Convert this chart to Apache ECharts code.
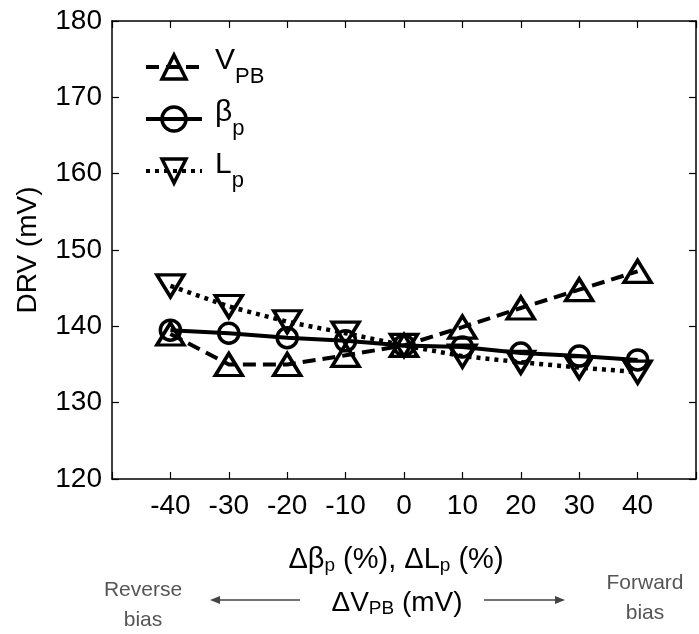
<!DOCTYPE html>
<html>
<head>
<meta charset="utf-8">
<script src="https://cdn.jsdelivr.net/npm/echarts@6/dist/echarts.min.js"></script>
<style>html,body{margin:0;padding:0;background:#fff;}#c{width:699px;height:634px;}</style>
</head>
<body>
<div id="c"></div>
<script>
const xValues = [-40, -30, -20, -10, 0, 10, 20, 30, 40];
const vpbValues = [139.0, 135.0, 135.0, 136.2, 137.5, 139.9, 142.4, 144.8, 147.2];
const betaValues = [139.5, 139.1, 138.5, 138.1, 137.5, 137.3, 136.5, 136.1, 135.6];
const lpValues = [145.3, 142.6, 140.6, 139.1, 137.5, 136.1, 135.3, 134.6, 134.0];
const yTicks = [120, 130, 140, 150, 160, 170, 180];
const seriesNames = ['VPB', 'beta', 'Lp'];

const FONT = 'Liberation Sans, Arial, sans-serif';
const pair = (vals) => xValues.map((x, i) => [x, vals[i]]);

const chart = echarts.init(document.getElementById('c'), null, {renderer: 'canvas'});
const markerStyle = {color: 'rgba(0,0,0,0)', borderColor: '#000', borderWidth: 3.5};

const legendRich = {
  m: {fontSize: 30, fontFamily: FONT, color: '#000', verticalAlign: 'top', lineHeight: 42, padding: [0, 0, 0, 8]},
  s: {fontSize: 22, fontFamily: FONT, color: '#000', verticalAlign: 'bottom', lineHeight: 42}
};
const legendText = {VPB: '{m|V}{s|PB}', beta: '{m|β}{s|p}', Lp: '{m|L}{s|p}'};
const tickStyle = {inside: true, length: 7, lineStyle: {color: '#000', width: 1.2}};
const lineAxis = {show: true, onZero: false, lineStyle: {color: '#000', width: 1.5}};

chart.setOption({
  animation: false,
  backgroundColor: '#fff',
  grid: {left: 112, right: 1, top: 21, bottom: 155, containLabel: false},
  legend: {
    orient: 'vertical', left: 139, top: 41, itemWidth: 56, itemHeight: 30, itemGap: 10,
    data: seriesNames,
    formatter: (n) => legendText[n],
    lineStyle: {width: 4},
    itemStyle: {borderWidth: 3.5},
    textStyle: {rich: legendRich}
  },
  xAxis: [{
    type: 'value', min: -50, max: 50, interval: 10,
    axisLine: lineAxis, axisTick: tickStyle,
    axisLabel: {fontSize: 28, fontFamily: FONT, color: '#000', margin: 13,
      formatter: (v) => (Math.abs(v) === 50 ? '' : String(v))},
    splitLine: {show: false}
  }, {
    type: 'value', position: 'top', min: -50, max: 50, interval: 10,
    axisLine: lineAxis, axisTick: tickStyle,
    axisLabel: {show: false}, splitLine: {show: false}
  }],
  yAxis: [{
    type: 'value', min: yTicks[0], max: yTicks[yTicks.length - 1], interval: 10,
    name: 'DRV (mV)', nameLocation: 'middle', nameGap: 70,
    nameTextStyle: {fontSize: 28, fontFamily: FONT, color: '#000'},
    axisLine: lineAxis, axisTick: tickStyle,
    axisLabel: {fontSize: 28, fontFamily: FONT, color: '#000', margin: 10},
    splitLine: {show: false}
  }, {
    type: 'value', position: 'right', min: yTicks[0], max: yTicks[yTicks.length - 1], interval: 10,
    axisLine: lineAxis, axisTick: tickStyle,
    axisLabel: {show: false}, splitLine: {show: false}
  }],
  series: [{
    name: 'VPB', type: 'line', data: pair(vpbValues),
    symbol: 'triangle', symbolSize: [27, 22], showAllSymbol: true,
    lineStyle: {color: '#000', width: 4, type: [13, 7]},
    itemStyle: markerStyle, z: 3
  }, {
    name: 'beta', type: 'line', data: pair(betaValues),
    symbol: 'circle', symbolSize: 20, showAllSymbol: true,
    lineStyle: {color: '#000', width: 4, type: 'solid'},
    itemStyle: markerStyle, z: 3
  }, {
    name: 'Lp', type: 'line', data: pair(lpValues),
    symbol: 'triangle', symbolRotate: 180, symbolSize: [27, 22], showAllSymbol: true,
    lineStyle: {color: '#000', width: 4.5, type: [4, 5]},
    itemStyle: markerStyle, z: 3
  }],
  graphic: [{
    type: 'text', x: 396, y: 560,
    style: {
      text: '{t|Δβ}{s|p}{t| (%), ΔL}{s|p}{t| (%)}',
      align: 'center', verticalAlign: 'middle',
      rich: {t: {fontSize: 29, fontFamily: FONT, color: '#000'}, s: {fontSize: 19, fontFamily: FONT, color: '#000', padding: [12, 0, 0, 0]}}
    }
  }, {
    type: 'text', x: 397, y: 603,
    style: {
      text: '{t|ΔV}{s|PB}{t| (mV)}',
      align: 'center', verticalAlign: 'middle',
      rich: {t: {fontSize: 28, fontFamily: FONT, color: '#000'}, s: {fontSize: 19, fontFamily: FONT, color: '#000', padding: [12, 0, 0, 0]}}
    }
  }, {
    type: 'text', x: 143, y: 605,
    style: {text: 'Reverse\nbias', align: 'center', verticalAlign: 'middle', fontSize: 21, lineHeight: 30, fontFamily: FONT, fill: '#555'}
  }, {
    type: 'text', x: 645, y: 598,
    style: {text: 'Forward\nbias', align: 'center', verticalAlign: 'middle', fontSize: 21, lineHeight: 30, fontFamily: FONT, fill: '#555'}
  }, {
    type: 'line', shape: {x1: 300, y1: 600, x2: 218, y2: 600}, style: {stroke: '#444', lineWidth: 1.5}
  }, {
    type: 'polygon', shape: {points: [[210, 600], [220, 596], [220, 604]]}, style: {fill: '#444'}
  }, {
    type: 'line', shape: {x1: 484, y1: 600, x2: 556, y2: 600}, style: {stroke: '#444', lineWidth: 1.5}
  }, {
    type: 'polygon', shape: {points: [[565, 600], [555, 596], [555, 604]]}, style: {fill: '#444'}
  }]
});
</script>
</body>
</html>
